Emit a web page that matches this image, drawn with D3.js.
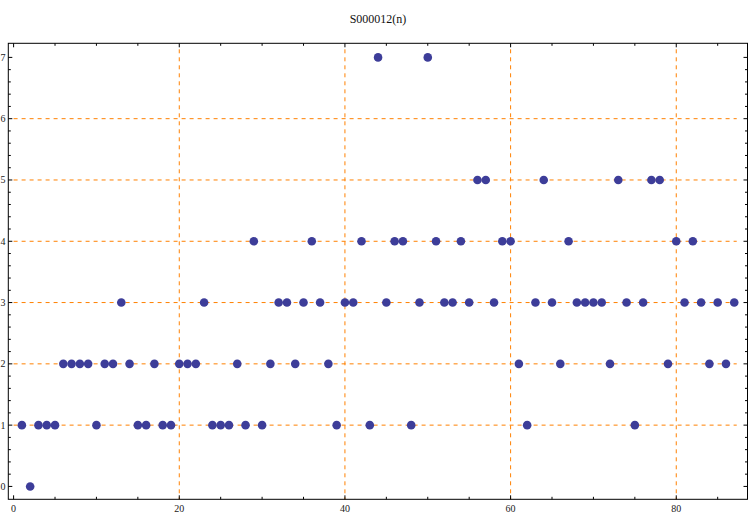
<!DOCTYPE html>
<html><head><meta charset="utf-8">
<script src="https://cdn.jsdelivr.net/npm/d3@7"></script>
<style>body{margin:0;background:#fff}svg{display:block}text{font-family:"Liberation Serif","Times New Roman",serif}</style>
</head><body>
<script>
const title = "S000012(n)";
const nValues = d3.range(1, 88);
const seqValues = [1,0,1,1,1,2,2,2,2,1,2,2,3,2,1,1,2,1,1,2,2,2,3,1,1,1,2,1,4,1,
  2,3,3,2,3,4,3,2,1,3,3,4,1,7,3,4,4,1,3,7,4,3,3,4,3,5,5,3,4,4,
  2,1,3,5,3,2,4,3,3,3,3,2,5,3,1,3,5,5,2,4,3,4,3,2,3,2,3];
const xTickLabels = [0,20,40,60,80];
const yTickLabels = [0,1,2,3,4,5,6,7];
const xGrid = [20,40,60,80];
const yGrid = [1,2,3,4,5,6];

const W = 750, H = 515;
const svg = d3.select("body").append("svg").attr("width", W).attr("height", H);
const L = 8.3, R = 747.5, T = 43.3, B = 499.3;
const x = d3.scaleLinear().domain([-0.64, 88.6]).range([L, R]);
const y = d3.scaleLinear().domain([-0.21, 7.23]).range([B, T]);
const gridColor = "#ff8000";

// grid lines
svg.append("g").selectAll("line").data(yGrid).join("line")
  .attr("x1", x(0)).attr("x2", x(87.3))
  .attr("y1", d => y(d)).attr("y2", d => y(d))
  .attr("stroke", gridColor).attr("stroke-width", 1).attr("stroke-dasharray", "4,4");
svg.append("g").selectAll("line").data(xGrid).join("line")
  .attr("x1", d => x(d)).attr("x2", d => x(d))
  .attr("y1", T + 6).attr("y2", B)
  .attr("stroke", gridColor).attr("stroke-width", 1).attr("stroke-dasharray", "4,4");

// frame
svg.append("rect").attr("x", L).attr("y", T).attr("width", R - L).attr("height", B - T)
  .attr("fill", "none").attr("stroke", "#000").attr("stroke-width", 1);

// ticks
const xMinor = d3.range(0, 90, 5);
const yMinor = d3.range(0, 36).map(i => i * 0.2).filter(v => v <= 7.2);
const tick = (g, data, isMajor, orient) => {
  const len = isMajor ? 4 : 2.5;
  g.selectAll(null).data(data).join("line")
    .attr("stroke", "#000").attr("stroke-width", 1)
    .each(function(d) {
      const s = d3.select(this);
      if (orient === "bottom") s.attr("x1", x(d)).attr("x2", x(d)).attr("y1", B).attr("y2", B - len);
      if (orient === "top") s.attr("x1", x(d)).attr("x2", x(d)).attr("y1", T).attr("y2", T + len);
      if (orient === "left") s.attr("y1", y(d)).attr("y2", y(d)).attr("x1", L).attr("x2", L + len);
      if (orient === "right") s.attr("y1", y(d)).attr("y2", y(d)).attr("x1", R).attr("x2", R - len);
    });
};
const tg = svg.append("g");
["bottom","top"].forEach(o => { tick(tg, xMinor.filter(v => v % 20 !== 0), false, o); tick(tg, xTickLabels, true, o); });
["left","right"].forEach(o => { tick(tg, yMinor.filter(v => Math.abs(v - Math.round(v)) > 1e-6), false, o); tick(tg, yTickLabels, true, o); });

// tick labels
svg.append("g").selectAll("text").data(xTickLabels).join("text")
  .attr("x", d => x(d)).attr("y", 512).attr("text-anchor", "middle")
  .attr("font-size", 10).attr("fill", "#222").text(d => d);
svg.append("g").selectAll("text").data(yTickLabels).join("text")
  .attr("x", 5.5).attr("y", d => y(d) + 3.5).attr("text-anchor", "end")
  .attr("font-size", 10).attr("fill", "#222").text(d => d);

// title
svg.append("text").attr("x", 378).attr("y", 23).attr("text-anchor", "middle")
  .attr("font-size", 12).attr("fill", "#111").text(title);

// points
svg.append("g").selectAll("circle").data(nValues.map((n, i) => [n, seqValues[i]])).join("circle")
  .attr("cx", d => x(d[0])).attr("cy", d => y(d[1])).attr("r", 4.3)
  .attr("fill", "#3d3d99");
</script>
</body></html>
